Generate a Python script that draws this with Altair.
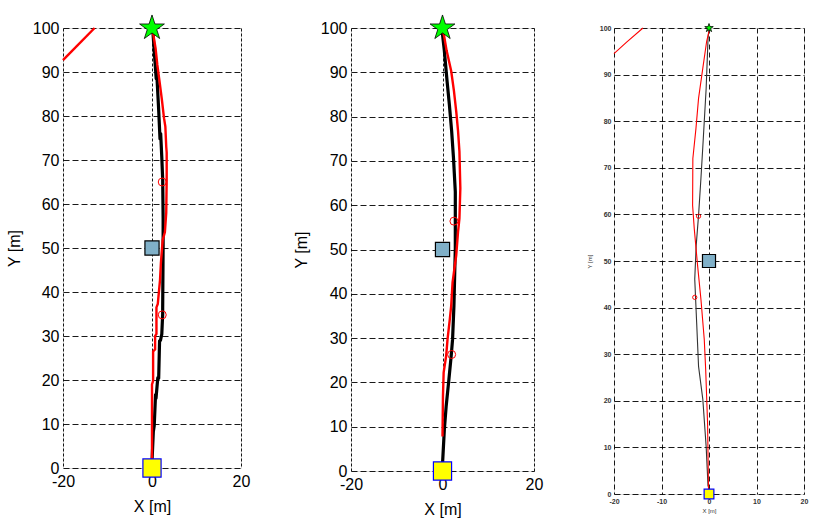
import altair as alt
import pandas as pd

# ---------------- data ----------------
# Panel 1
P1_BLACK_X = [0.0, 0.3, 0.5, 0.8, 0.9, 1.3, 1.5, 1.7, 1.9, 2.2, 2.4, 2.4, 2.5, 2.5, 2.4, 2.2, 1.95, 1.8, 1.5, 1.05, 0.94, 0.56, 0.2, 0.0]
P1_BLACK_Y = [1.4, 8.3, 9.6, 16.7, 15.8, 20.5, 20.4, 28.9, 29.0, 30.4, 35.0, 36.5, 50.3, 56.7, 65.6, 70.6, 76.0, 74.8, 81.4, 90.0, 88.5, 93.9, 99.2, 100.0]
P1_RED_X = [0.0, 0.0, 0.0, 0.25, 0.25, 0.7, 0.7, 1.0, 1.0, 1.3, 1.8, 2.0, 2.4, 2.9, 3.2, 3.3, 3.3, 3.2, 3.0, 2.7, 2.2, 1.7, 1.2, 0.8, 0.3, 0.0]
P1_RED_Y = [2.1, 12.2, 19.0, 19.8, 26.5, 27.0, 30.0, 30.5, 36.5, 37.3, 42.7, 46.6, 51.8, 53.6, 58.0, 65.6, 71.7, 73.0, 77.6, 79.5, 83.9, 87.8, 91.6, 95.4, 98.5, 100.0]
P1_STRAY_X = [-20.0, -12.9]
P1_STRAY_Y = [92.7, 100.0]
P1_CIRCLE_X = [2.3, 2.3]
P1_CIRCLE_Y = [65.0, 34.8]

# Panel 2
P2_BLACK_X = [0.0, 0.4, 0.8, 1.4, 1.9, 2.2, 2.5, 2.8, 2.8, 2.4, 2.0, 1.5, 1.0, 0.4, 0.0, 0.0]
P2_BLACK_Y = [1.5, 9.3, 14.6, 20.7, 26.0, 29.7, 37.3, 50.2, 63.0, 70.7, 76.7, 82.7, 88.0, 94.9, 98.6, 100.0]
P2_RED_X = [0.0, 0.1, 0.25, 0.8, 1.1, 1.6, 1.9, 2.2, 3.0, 3.4, 3.7, 3.9, 3.7, 3.4, 3.0, 2.5, 1.9, 0.9, 0.4, 0.0]
P2_RED_Y = [7.8, 16.9, 22.2, 26.0, 29.7, 34.3, 37.3, 42.6, 48.7, 54.0, 57.0, 63.8, 72.1, 76.7, 81.2, 85.8, 90.3, 94.9, 97.9, 100.0]
P2_CIRCLE_X = [2.5, 2.0]
P2_CIRCLE_Y = [56.4, 26.3]

# Panel 3
P3_BLACK_X = [-0.2, -0.6, -1.3, -2.2, -2.6, -3.0, -2.7, -2.2, -1.7, -1.2, -0.6, -0.2, 0.0]
P3_BLACK_Y = [1.6, 10.2, 20.3, 27.4, 36.8, 46.1, 53.3, 59.8, 67.7, 76.3, 87.0, 97.8, 100.0]
P3_RED_X = [-0.1, -0.3, -0.7, -1.0, -1.7, -2.4, -3.1, -3.45, -3.4, -2.75, -2.2, -1.3, -0.5, 0.0]
P3_RED_Y = [0.9, 15.2, 26.7, 33.2, 41.8, 49.0, 56.9, 61.9, 72.0, 78.4, 84.9, 91.4, 97.1, 99.3]
P3_STRAY_X = [-20.0, -17.4, -13.9]
P3_STRAY_Y = [94.5, 96.9, 100.0]
P3_CIRCLE_X = [-2.2, -3.0]
P3_CIRCLE_Y = [59.6, 42.2]

# common markers
START_XY = (0.0, 0.0)     # yellow square
MID_XY = (0.0, 50.0)      # blue-grey square
GOAL_XY = (0.0, 100.0)    # green star

STAR = ("M0,-1L0.2245,-0.309L0.951,-0.309L0.363,0.118L0.588,0.809L0,0.382"
        "L-0.588,0.809L-0.363,0.118L-0.951,-0.309L-0.2245,-0.309Z")


def df_line(xs, ys):
    return pd.DataFrame({"x": xs, "y": ys, "i": list(range(len(xs)))})


def panel(black, red, stray, circles, w, h, big, ytpad):
    xs = alt.Scale(domain=[-20, 20], nice=False, zero=False)
    ys = alt.Scale(domain=[0, 100], nice=False, zero=False)
    if big:
        fs, fw, font_col, xvals = 16, "normal", "#000", [-20, 0, 20]
        lab_pad_x, lab_pad_y, tpad_x = 5, 4, 9
        lw_b, lw_r = 3.2, 2.4
        xgrid_dash = [3, 2]
        tfs = 16
    else:
        fs, fw, font_col, xvals = 7, "bold", "#333", [-20, -10, 0, 10, 20]
        lab_pad_x, lab_pad_y, tpad_x = 3, 3, 3
        lw_b, lw_r = 1.1, 1.1
        xgrid_dash = [5, 3]
        tfs = 6
    xaxis = alt.Axis(values=xvals, grid=True, gridColor="#000", gridDash=xgrid_dash,
                     gridWidth=0.9, gridOpacity=1, ticks=False, domain=False,
                     labelFontSize=fs, labelFontWeight=fw, labelColor=font_col,
                     labelFont="Liberation Sans", labelFlush=False, labelOverlap=False,
                     labelPadding=lab_pad_x, labelExpr="'' + datum.value",
                     title="X [m]", titleFont="Liberation Sans", titleFontSize=tfs,
                     titleFontWeight="normal", titleColor=font_col, titlePadding=tpad_x)
    yaxis = alt.Axis(values=list(range(0, 101, 10)), grid=True, gridColor="#000",
                     gridDash=[6, 3], gridWidth=0.9, gridOpacity=1, ticks=False, domain=False,
                     labelFontSize=fs, labelFontWeight=fw, labelColor=font_col,
                     labelFont="Liberation Sans", labelFlush=False, labelOverlap=False,
                     labelPadding=lab_pad_y, labelExpr="'' + datum.value",
                     title="Y [m]", titleFont="Liberation Sans", titleFontSize=tfs,
                     titleFontWeight="normal", titleColor=font_col, titlePadding=ytpad)
    X = alt.X("x:Q", scale=xs, axis=xaxis)
    Y = alt.Y("y:Q", scale=ys, axis=yaxis)
    Xn = alt.X("x:Q", scale=xs)
    Yn = alt.Y("y:Q", scale=ys)

    layers = []
    base_axes = alt.Chart(df_line([0], [0])).mark_point(opacity=0).encode(x=X, y=Y)
    layers.append(base_axes)
    if stray is not None:
        layers.append(alt.Chart(df_line(*stray)).mark_line(color="#ff0000", strokeWidth=lw_r)
                      .encode(x=Xn, y=Yn, order="i:Q"))
    layers.append(alt.Chart(df_line(*black)).mark_line(color="#000" if big else "#333",
                                                      strokeWidth=lw_b, strokeJoin="round")
                  .encode(x=Xn, y=Yn, order="i:Q"))
    layers.append(alt.Chart(df_line(*red)).mark_line(color="#ff0000", strokeWidth=lw_r,
                                                    strokeJoin="miter")
                  .encode(x=Xn, y=Yn, order="i:Q"))
    layers.append(alt.Chart(df_line(*circles)).mark_point(shape="circle", filled=False,
                                                         color="#ff0000", strokeWidth=1,
                                                         size=64 if big else 18, opacity=1)
                  .encode(x=Xn, y=Yn))
    sq_mid = 200 if big else 170
    sq_start = 330 if big else 95
    star_size = 680 if big else 80
    layers.append(alt.Chart(df_line([MID_XY[0]], [MID_XY[1]])).mark_point(
        shape="square", filled=True, fill="#80b0c8", stroke="#000", strokeWidth=1.2,
        size=sq_mid, opacity=1).encode(x=Xn, y=Yn))
    layers.append(alt.Chart(df_line([START_XY[0]], [START_XY[1]])).mark_point(
        shape="square", filled=True, fill="#ffff00", stroke="#0000ff", strokeWidth=1.2,
        size=sq_start, opacity=1).encode(x=Xn, y=Yn))
    layers.append(alt.Chart(df_line([GOAL_XY[0]], [GOAL_XY[1]])).mark_point(
        shape=STAR, filled=True, fill="#00ff00", stroke="#000", strokeWidth=0.8,
        size=star_size, opacity=1).encode(x=Xn, y=Yn))

    return alt.layer(*layers).properties(width=w, height=h)


p1 = panel((P1_BLACK_X, P1_BLACK_Y), (P1_RED_X, P1_RED_Y), (P1_STRAY_X, P1_STRAY_Y),
           (P1_CIRCLE_X, P1_CIRCLE_Y), 178, 440, True, 10)
p2 = panel((P2_BLACK_X, P2_BLACK_Y), (P2_RED_X, P2_RED_Y), None,
           (P2_CIRCLE_X, P2_CIRCLE_Y), 183, 443, True, 11)
p3 = panel((P3_BLACK_X, P3_BLACK_Y), (P3_RED_X, P3_RED_Y), (P3_STRAY_X, P3_STRAY_Y),
           (P3_CIRCLE_X, P3_CIRCLE_Y), 190, 466, False, 7)

chart = alt.hconcat(p1, p2, p3, spacing=41).properties(
    padding={"left": 5, "top": 12, "right": 5, "bottom": 5}
).configure_view(stroke="#000", strokeWidth=1.2, fill="white").configure(background="white")

chart.save("out.html", embed_options={"renderer": "svg", "actions": False})
